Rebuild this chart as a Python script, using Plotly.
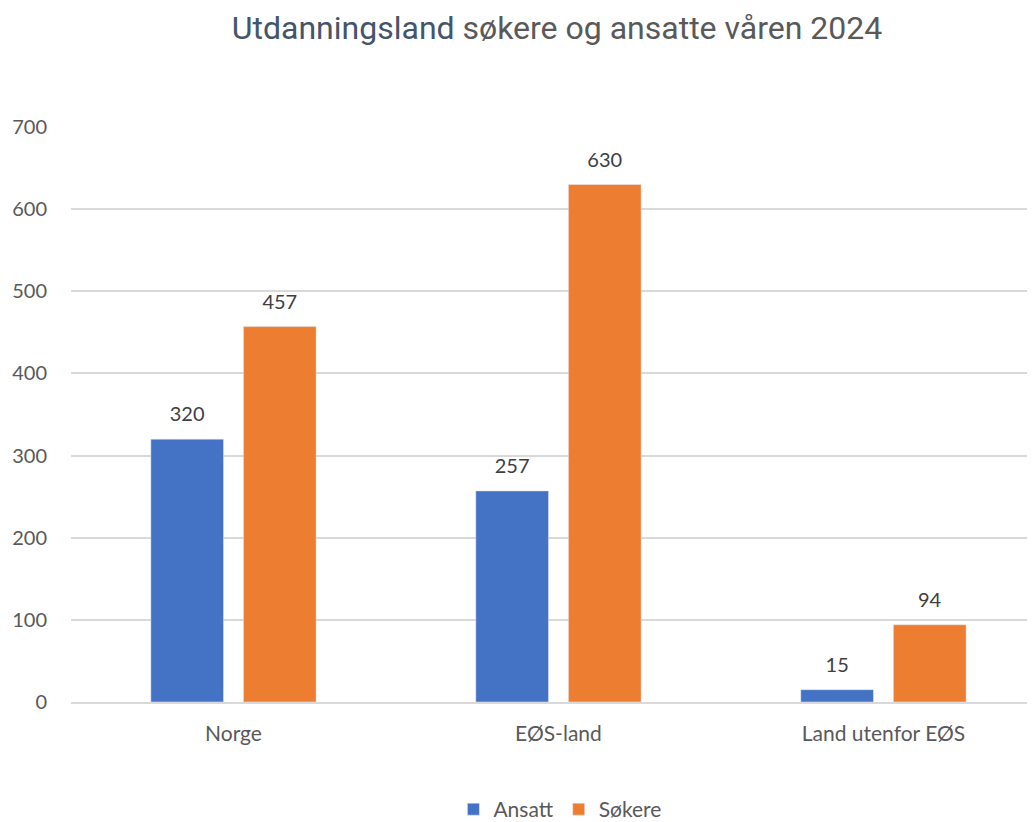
import plotly.graph_objects as go

categories = ['Norge', 'EØS-land', 'Land utenfor EØS']
ansatt = [320, 257, 15]
sokere = [457, 630, 94]
y_ticks = [0, 100, 200, 300, 400, 500, 600, 700]

TEXT = '#595959'
FONT = 'Lato, Carlito, Calibri, sans-serif'

# small-font blank second line lifts the value label a bit above the bar
label_tpl = "<span style='font-size:20px'>%{y}</span><br> "

fig = go.Figure()
for name, vals, col in [('Ansatt', ansatt, '#4472C4'), ('Søkere', sokere, '#ED7D31')]:
    fig.add_trace(go.Bar(x=categories, y=vals, name=name,
                         marker=dict(color=col),
                         texttemplate=label_tpl, textposition='outside',
                         textfont=dict(size=10, color='#404040', family=FONT),
                         cliponaxis=False))

fig.update_layout(
    width=1035, height=822,
    paper_bgcolor='white', plot_bgcolor='white',
    margin=dict(l=63, r=0, t=119, b=125),
    font=dict(family=FONT, size=21, color=TEXT),
    title=dict(
        text="<span style='color:#44546A'>Utdanningsland</span> søkere og ansatte våren 2024",
        font=dict(family='Roboto', size=32, color=TEXT),
        xref='paper', x=0.5, xanchor='center', y=0.9757, yanchor='middle',
    ),
    barmode='group', bargap=0.43, bargroupgap=0.215,
    showlegend=True,
    legend=dict(orientation='h', x=0.503, xanchor='center', y=-0.187, yanchor='middle',
                font=dict(size=21, color=TEXT), traceorder='normal'),
    xaxis=dict(range=[-0.5, 2.491], showgrid=False, showline=True,
               linecolor='#D9D9D9', linewidth=1.5, ticks='',
               ticklabelstandoff=12, tickfont=dict(size=21, color=TEXT)),
    yaxis=dict(range=[0, 700], tickvals=y_ticks, showgrid=True,
               gridcolor='#D9D9D9', gridwidth=1.5, zeroline=False,
               showline=False, ticks='', ticklabelstandoff=23,
               tickfont=dict(size=20, color=TEXT)),
)

fig.write_html('out.html')
